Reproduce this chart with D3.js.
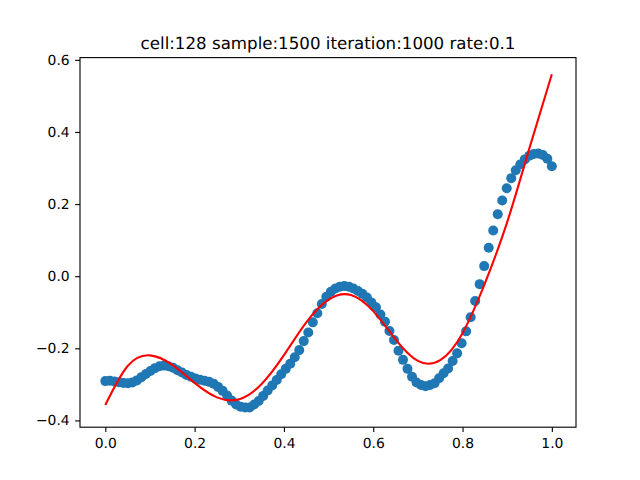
<!DOCTYPE html>
<html>
<head>
<meta charset="utf-8">
<script src="https://cdn.jsdelivr.net/npm/d3@7"></script>
<style>
  html, body { margin: 0; padding: 0; background: #fff; }
  svg { display: block; }
  text { font-family: "DejaVu Sans", sans-serif; fill: #000; text-rendering: geometricPrecision; }
</style>
</head>
<body>
<svg id="chart"></svg>
<script>
const WIDTH = 640
const HEIGHT = 480

const TITLE = "cell:128 sample:1500 iteration:1000 rate:0.1"

const xTicks = [0, 0.2, 0.4, 0.6, 0.8, 1.0]
const yTicks = [-0.4, -0.2, 0, 0.2, 0.4, 0.6]

// scatter, evenly spaced 100 samples between 0 and 1
const pointCount = 100
const pointValues = [
  -0.291, -0.290, -0.292, -0.294, -0.296, -0.297, -0.295, -0.289, -0.280, -0.271,
  -0.263, -0.255, -0.250, -0.248, -0.250, -0.254, -0.261, -0.267, -0.274, -0.279,
  -0.284, -0.287, -0.290, -0.293, -0.298, -0.307, -0.318, -0.331, -0.345, -0.356,
  -0.362, -0.364, -0.364, -0.356, -0.346, -0.332, -0.317, -0.303, -0.288, -0.272,
  -0.257, -0.243, -0.225, -0.205, -0.180, -0.156, -0.128, -0.103, -0.077, -0.057,
  -0.043, -0.034, -0.029, -0.027, -0.029, -0.034, -0.041, -0.049, -0.059, -0.073,
  -0.086, -0.106, -0.126, -0.152, -0.177, -0.207, -0.232, -0.257, -0.279, -0.295,
  -0.302, -0.305, -0.302, -0.297, -0.283, -0.269, -0.256, -0.235, -0.214, -0.186,
  -0.153, -0.114, -0.069, -0.022, 0.028, 0.079, 0.127, 0.172, 0.210, 0.244,
  0.272, 0.294, 0.310, 0.324, 0.334, 0.339, 0.340, 0.336, 0.326, 0.305
]

// red fitted line, read every 0.05 on x
const lineX = [
  0, 0.05, 0.1, 0.15, 0.2, 0.25, 0.3, 0.35, 0.4, 0.45, 0.5,
  0.55, 0.6, 0.65, 0.7, 0.75, 0.8, 0.85, 0.9, 0.95, 1
]
const lineY = [
  -0.357, -0.249, -0.2195, -0.246, -0.296, -0.336, -0.341, -0.299, -0.219, -0.128, -0.065,
  -0.052, -0.097, -0.175, -0.235, -0.233, -0.158, -0.020, 0.150, 0.356, 0.560
]

drawChart()

function drawChart() {
  let svg = d3.select("#chart")
    .attr("width", WIDTH)
    .attr("height", HEIGHT)

  let x = d3.scaleLinear()
    .domain([-0.0567, 1.0541])
    .range([80, 576])

  let y = d3.scaleLinear()
    .domain([-0.4188, 0.6063])
    .range([427.2, 57.6])

  let points = pointValues.map((v, i) => [i / (pointCount - 1), v])

  svg.append("g")
    .selectAll("circle")
    .data(points)
    .enter()
    .append("circle")
    .attr("cx", d => x(d[0]))
    .attr("cy", d => y(d[1]))
    .attr("r", 5)
    .attr("fill", "#1f77b4")

  let line = d3.line()
    .x(d => x(d[0]))
    .y(d => y(d[1]))
    .curve(d3.curveNatural)

  svg.append("path")
    .datum(lineX.map((v, i) => [v, lineY[i]]))
    .attr("d", line)
    .attr("fill", "none")
    .attr("stroke", "red")
    .attr("stroke-width", 2.08)

  let xAxis = d3.axisBottom(x)
    .tickValues(xTicks)
    .tickFormat(d3.format(".1f"))
    .tickSize(4.86)
    .tickPadding(5.8)

  let yAxis = d3.axisLeft(y)
    .tickValues(yTicks)
    .tickFormat(d3.format(".1f"))
    .tickSize(4.86)
    .tickPadding(5.5)

  let xGroup = svg.append("g")
    .attr("transform", "translate(0, 427.2)")
    .call(xAxis)

  let yGroup = svg.append("g")
    .attr("transform", "translate(80, 0)")
    .call(yAxis)

  for (let g of [xGroup, yGroup]) {
    g.select(".domain").remove()
    g.selectAll("line").attr("stroke", "#000").attr("stroke-width", 1.11)
    g.selectAll("text").attr("font-size", 13.89).attr("font-family", "DejaVu Sans")
  }

  // frame
  svg.append("rect")
    .attr("x", 80)
    .attr("y", 57.6)
    .attr("width", 496)
    .attr("height", 369.6)
    .attr("fill", "none")
    .attr("stroke", "#000")
    .attr("stroke-width", 1.11)

  svg.append("text")
    .attr("x", 328)
    .attr("y", 49.3)
    .attr("text-anchor", "middle")
    .attr("font-size", 16.67)
    .text(TITLE)
}
</script>
</body>
</html>
